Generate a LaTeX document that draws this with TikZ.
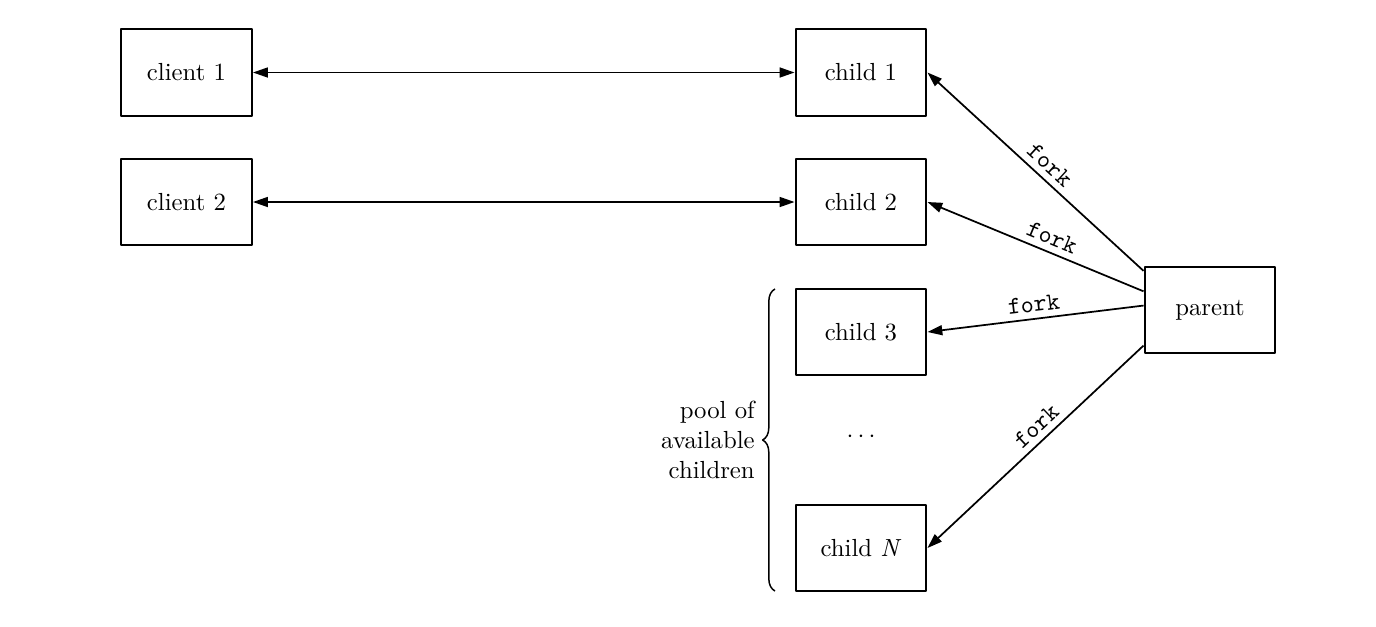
\documentclass[tikz,border=0pt]{standalone}
\usetikzlibrary{arrows.meta,calc,decorations.pathreplacing}
\begin{document}
\begin{tikzpicture}[x=0.0142cm,y=-0.0142cm,line join=round,>={Triangle[length=6pt,width=4pt]}]
	\tikzset{proc/.style={draw,line width=0.8pt,minimum width=1.86cm,minimum height=1.235cm,inner sep=1pt},
		forkarr/.style={->,line width=0.7pt},
		forklab/.style={font=\ttfamily,sloped,above,inner sep=2.5pt}}
	\useasboundingbox (0,0) rectangle (1376,626);
	\node[proc] (client1) at (186.5,72.5) {client 1};
	\node[proc] (client2) at (186.5,202) {client 2};
	\node[proc] (child1) at (861,72.5) {child 1};
	\node[proc] (child2) at (861,202) {child 2};
	\node[proc] (child3) at (861,332) {child 3};
	\node[proc] (childN) at (861,548) {child \textit{N}};
	\node (dots) at (861,437) {$\cdots$};
	\node[proc] (parent) at (1210,310) {parent};
	\draw[<->,line width=0.7pt] (client1.east)--(child1.west);
	\draw[<->,line width=0.7pt] (client2.east)--(child2.west);
	\draw[forkarr] ($(parent.north west)!0.06!(parent.south west)$)--(child1.east) node[forklab,pos=0.48]{fork};
	\draw[forkarr] ($(parent.north west)!0.29!(parent.south west)$)--(child2.east) node[forklab,pos=0.45]{fork};
	\draw[forkarr] ($(parent.north west)!0.45!(parent.south west)$)--(child3.east) node[forklab,pos=0.5]{fork};
	\draw[forkarr] ($(parent.north west)!0.9!(parent.south west)$)--(childN.east) node[forklab,pos=0.45]{fork};
	\draw[decorate,decoration={brace,amplitude=5pt},line width=0.6pt] (775,591)--(775,289) coordinate[pos=0.5] (bracemid);
	\node[align=right,anchor=east,inner sep=1pt] (pool) at ([xshift=-7pt]bracemid) {pool of\\available\\children};
\end{tikzpicture}
\end{document}
